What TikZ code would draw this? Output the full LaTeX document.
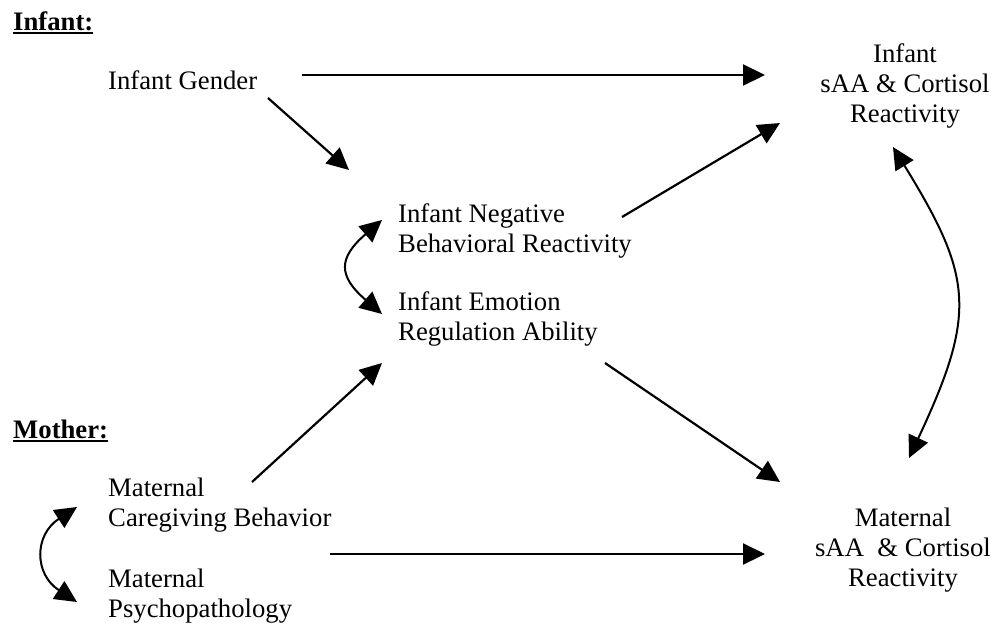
\documentclass[tikz,border=0pt]{standalone}
\usepackage{fontspec}
\setmainfont{Liberation Serif}
\usetikzlibrary{arrows.meta}
\newcommand\myul[1]{\setbox0\hbox{#1}\rlap{\rule[-3.6pt]{\wd0}{1.8pt}}\box0}
\begin{document}
\begin{tikzpicture}[x=1pt,y=-1pt,
  lbl/.style={inner sep=0pt, font=\fontsize{26.7}{30}\selectfont},
  grp/.style={inner sep=0pt, anchor=base west, font=\fontsize{26.7}{30}\selectfont\bfseries},
  arr/.style={line width=2.2pt, -{Triangle[length=22pt,width=21pt]}},
  darr/.style={line width=2pt, {Triangle[length=22pt,width=21pt]}-{Triangle[length=22pt,width=21pt]}}]
\useasboundingbox (0,0) rectangle (996,625);
% group labels
\node[grp] (infantlbl) at (13,30) {\myul{Infant:}};
\node[grp] (motherlbl) at (13,438) {\myul{Mother:}};
% variables
\node[lbl, anchor=base west] (gender) at (108,89) {Infant Gender};
\node[lbl, anchor=north, align=center] (infsaa) at (905,43) {Infant\\sAA \& Cortisol\\Reactivity};
\node[lbl, anchor=north west, align=left] (negbeh) at (398,203) {Infant Negative\\Behavioral Reactivity};
\node[lbl, anchor=north west, align=left] (emoreg) at (398,291) {Infant Emotion\\Regulation Ability};
\node[lbl, anchor=north west, align=left] (matcare) at (108,478) {Maternal\\Caregiving Behavior};
\node[lbl, anchor=north west, align=left] (matpsy) at (108,569) {Maternal\\Psychopathology};
\node[lbl, anchor=north, align=center] (matsaa) at (903,508) {Maternal\\sAA\ \ \& Cortisol\\Reactivity};
% connector end points
\coordinate (gender-r) at (302,75);
\coordinate (infsaa-l) at (765,75);
\coordinate (gender-d) at (268,98);
\coordinate (negbeh-ul) at (349,170);
\coordinate (negbeh-r) at (622,217);
\coordinate (infsaa-ll) at (780,123);
\coordinate (negbeh-l) at (382,220);
\coordinate (emoreg-l) at (382,314);
\coordinate (emoreg-r) at (605,363);
\coordinate (matsaa-ul) at (780,482);
\coordinate (matcare-u) at (252,482);
\coordinate (emoreg-ll) at (382,363);
\coordinate (matcare-r) at (330,554);
\coordinate (matsaa-l) at (765,554);
\coordinate (matcare-l) at (77,507);
\coordinate (matpsy-l) at (77,602);
\coordinate (infsaa-b) at (893,147);
\coordinate (matsaa-t) at (909,458);
% connectors
\draw[arr] (gender-r) -- (infsaa-l);
\draw[arr] (gender-d) -- (negbeh-ul);
\draw[arr] (negbeh-r) -- (infsaa-ll);
\draw[darr] (negbeh-l) .. controls (338,258) and (338,276) .. (emoreg-l);
\draw[arr] (emoreg-r) -- (matsaa-ul);
\draw[arr] (matcare-u) -- (emoreg-ll);
\draw[arr] (matcare-r) -- (matsaa-l);
\draw[darr] (matcare-l) .. controls (34,535) and (34,574) .. (matpsy-l);
\draw[darr] (infsaa-b) .. controls (973,277) and (977,313) .. (matsaa-t);
\end{tikzpicture}
\end{document}
